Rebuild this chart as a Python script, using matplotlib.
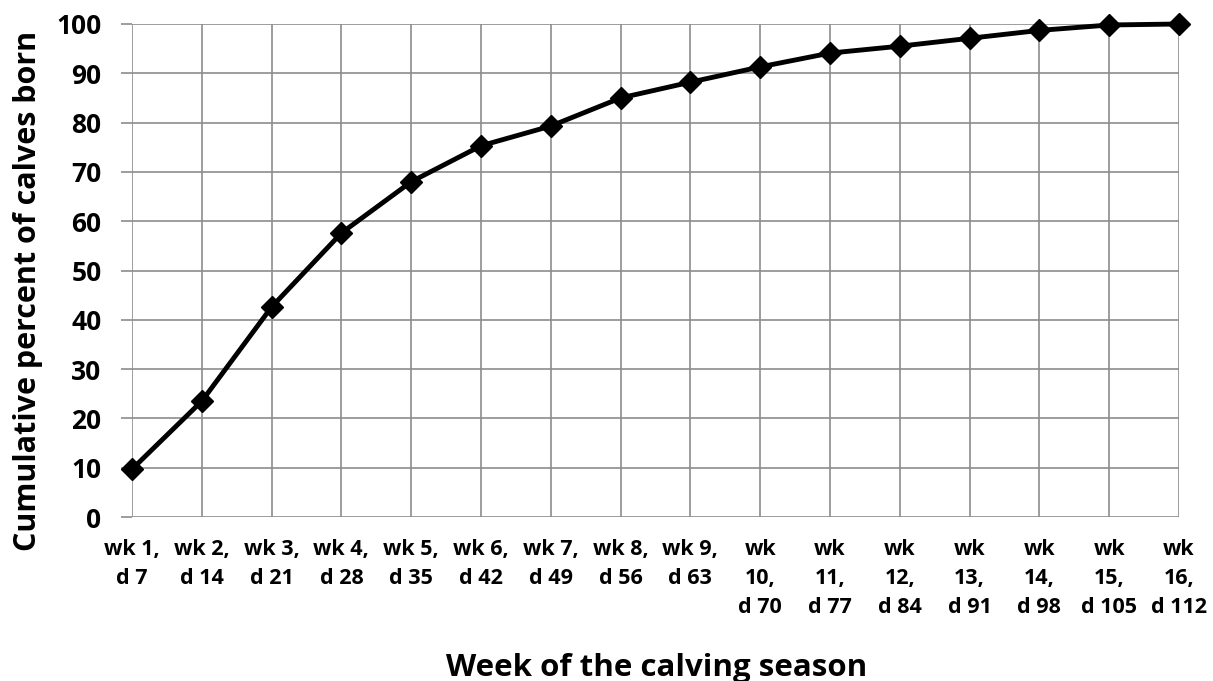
import matplotlib
matplotlib.use("Agg")
import matplotlib.pyplot as plt

weeks = list(range(1, 17))
days = [w * 7 for w in weeks]
tick_labels = [f"wk {w},\nd {d}" if w < 10 else f"wk\n{w},\nd {d}" for w, d in zip(weeks, days)]
cum_percent = [9.7, 23.5, 42.6, 57.6, 68.0, 75.3, 79.3, 85.0, 88.2, 91.3, 94.1, 95.5, 97.1, 98.7, 99.8, 100.0]
y_ticks = list(range(0, 101, 10))

plt.rcParams['font.family'] = ['Open Sans', 'DejaVu Sans']
plt.rcParams['font.weight'] = 'bold'

fig = plt.figure(figsize=(12.13, 6.81), dpi=100)
W, H = 1213, 681
ax = fig.add_axes([132 / W, (H - 517) / H, (1179 - 132) / W, (517 - 24) / H])

x = list(range(len(cum_percent)))
ax.plot(x, cum_percent, color='black', lw=3.5, marker='D', markersize=11,
        clip_on=False, zorder=5)

ax.set_xlim(0, len(x) - 1)
ax.set_ylim(0, 100)
ax.set_xticks(x)
ax.set_xticklabels(tick_labels, fontsize=15.5, fontweight='bold', va='top', linespacing=1.5)
ax.set_yticks(y_ticks)
ax.set_yticklabels([str(v) for v in y_ticks], fontsize=19, fontweight='bold')

grid_c = '#8c8c8c'
ax.grid(True, color=grid_c, lw=1.2)
ax.set_axisbelow(True)
for s in ax.spines.values():
    s.set_visible(False)
ax.tick_params(axis='x', length=0, pad=16)
ax.tick_params(axis='y', length=8, color=grid_c, width=1.2, pad=14)

fig.text(28 / W, 1 - 291 / H, 'Cumulative percent of calves born', fontsize=22, fontweight='bold',
         rotation=90, ha='center', va='center')
fig.text(657 / W, 1 - 676 / H, 'Week of the calving season', fontsize=22.5, fontweight='bold',
         ha='center', va='baseline')

fig.savefig('out.png', dpi=100)
